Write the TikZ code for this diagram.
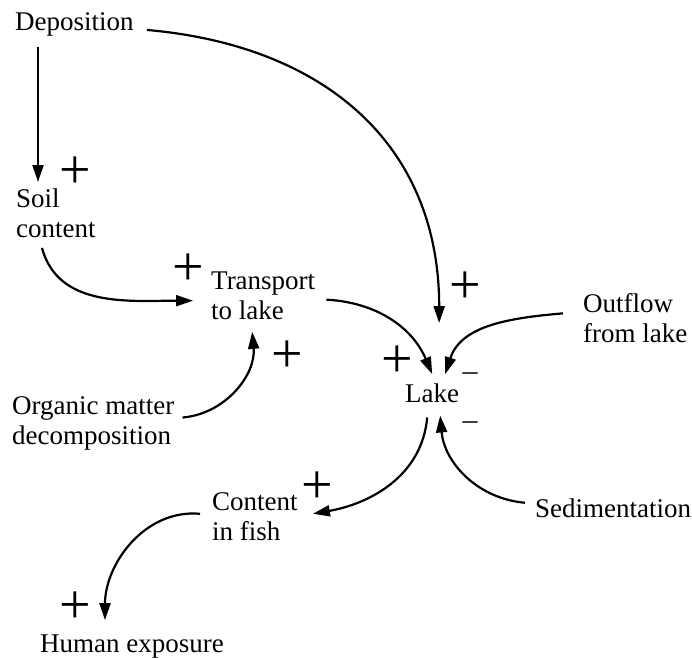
\documentclass[tikz,border=0pt]{standalone}
\usepackage{fontspec}
\setmainfont{Liberation Serif}
\usetikzlibrary{arrows.meta}

\begin{document}
\begin{tikzpicture}[
    x=1pt, y=-1pt,
    font=\fontsize{27}{30}\selectfont,
    var/.style={inner sep=0pt, align=left},
    arrow/.style={-{Triangle[length=17pt, width=11pt]}, line width=2.2pt},
    plus/.style={inner sep=0pt, font=\fontsize{56}{56}\selectfont},
    minus/.style={inner sep=0pt, font=\fontsize{30}{30}\selectfont}
]

% Canvas
\fill[white] (0,0) rectangle (692,657);
\useasboundingbox (0,0) rectangle (692,657);

% Variables
\node[var, anchor=base west] (dep) at (15, 30) {Deposition};
\node[var, anchor=north west] (soil) at (16, 188.5) {Soil\\content};
\node[var, anchor=north west] (trans) at (211, 271.5) {Transport\\to lake};
\node[var, anchor=north west] (org) at (12, 396.5) {Organic matter\\decomposition};
\node[var, anchor=base west] (lake) at (405, 402) {Lake};
\node[var, anchor=north west] (out) at (583, 293.5) {Outflow\\from lake};
\node[var, anchor=base west] (sed) at (535, 517) {Sedimentation};
\node[var, anchor=north west] (fish) at (212, 492.5) {Content\\in fish};
\node[var, anchor=base west] (hum) at (40, 652) {Human exposure};

% Links
\draw[arrow] ([xshift=23pt, yshift=-11pt]dep.south west) -- ([xshift=22pt, yshift=6.5pt]soil.north west);
\draw[arrow] ([xshift=13pt, yshift=-6pt]dep.east) to[out=-5, in=90, looseness=1.1] ([xshift=7pt, yshift=60pt]lake.north);
\draw[arrow] ([xshift=26pt, yshift=-10pt]soil.south west) to[out=-75, in=180] ([xshift=-18pt, yshift=-5pt]trans.west);
\draw[arrow] ([xshift=8pt, yshift=6pt]org.east) to[out=5, in=-85] ([xshift=-11pt, yshift=-12pt]trans.south);
\draw[arrow] ([xshift=11pt, yshift=-4pt]trans.east) to[out=-3, in=113] ([xshift=0pt, yshift=9pt]lake.north);
\draw[arrow] ([xshift=-20pt, yshift=5pt]out.west) to[out=185, in=72] ([xshift=13pt, yshift=9pt]lake.north);
\draw[arrow] ([xshift=-5pt, yshift=-15pt]lake.south) to[out=-95, in=10] ([xshift=15pt, yshift=3pt]fish.east);
\draw[arrow] ([xshift=-10pt, yshift=5pt]sed.west) to[out=175, in=-85] ([xshift=8pt, yshift=-13pt]lake.south);
\draw[arrow] ([xshift=-12pt, yshift=3pt]fish.west) to[out=175, in=90] ([xshift=65pt, yshift=14pt]hum.north west);

% Signs
\node[plus] (p1) at (75, 173) {+};
\node[plus] (p2) at (465, 288) {+};
\node[plus] (p3) at (188, 270) {+};
\node[plus] (p4) at (287, 357) {+};
\node[plus] (p5) at (397, 362) {+};
\node[plus] (p6) at (317, 488) {+};
\node[plus] (p7) at (75, 608) {+};
\node[minus] (m1) at (470, 377) {–};
\node[minus] (m2) at (470, 426) {–};

\end{tikzpicture}
\end{document}
